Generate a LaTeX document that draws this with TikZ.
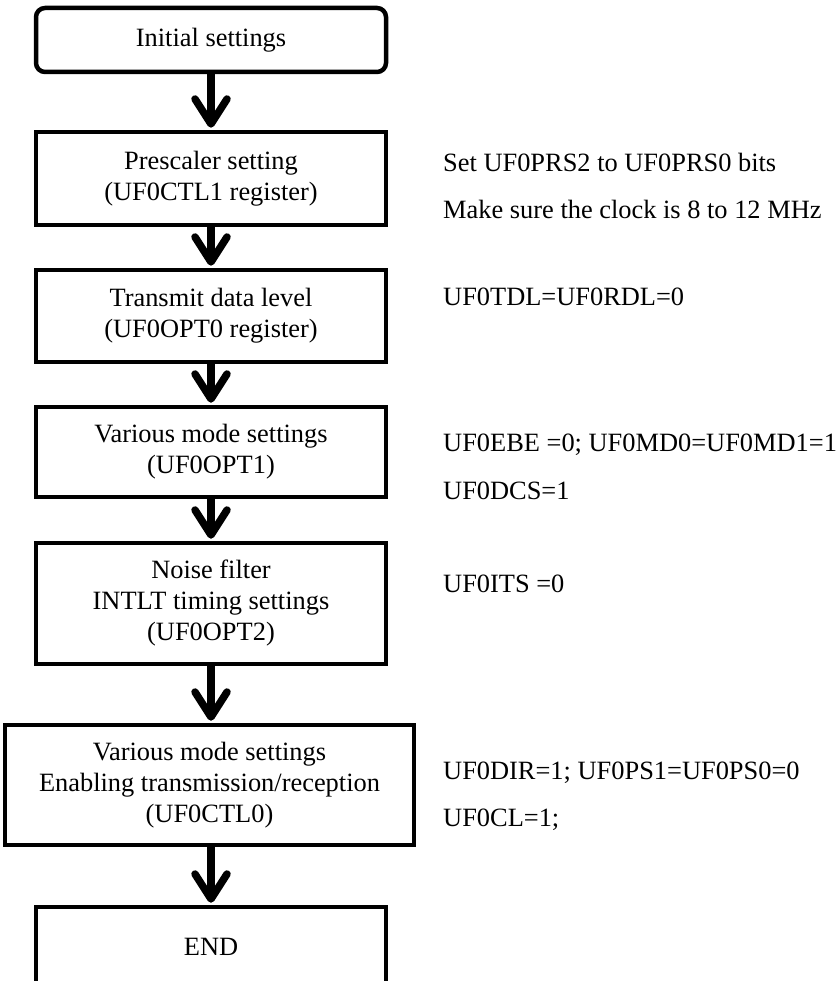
\documentclass[tikz,border=0pt]{standalone}
\usepackage{fontspec}
\setmainfont{Liberation Serif}
\usetikzlibrary{arrows.meta}

\begin{document}
\begin{tikzpicture}[x=1pt, y=-1pt,
  font=\fontsize{26.4}{31}\selectfont,
  stepbox/.style={draw, line width=4.5pt, fill=white, align=center,
    inner sep=0pt, minimum width=350pt},
  startbox/.style={stepbox, rounded corners=9pt},
  flow/.style={line width=7.5pt, shorten >=2pt,
    -{Straight Barb[length=25pt, width=32pt, round]}},
  note/.style={anchor=base west, inner sep=0pt}]
\useasboundingbox (0,0) rectangle (839,981);

% process chain
\node[startbox, minimum height=64pt]  (init)  at (211,40)    {Initial settings};
\node[stepbox,  minimum height=93pt]  (pres)  at (211,178.5) {Prescaler setting\\(UF0CTL1 register)};
\node[stepbox,  minimum height=92pt]  (trans) at (211,316)   {Transmit data level\\(UF0OPT0 register)};
\node[stepbox,  minimum height=90pt]  (mode)  at (211,452)   {Various mode settings\\(UF0OPT1)};
\node[stepbox,  minimum height=121pt] (noise) at (211,603.5) {Noise filter\\INTLT timing settings\\(UF0OPT2)};
\node[stepbox,  minimum height=120pt, minimum width=409pt] (ctl) at (209.5,785)
  {Various mode settings\\Enabling transmission/reception\\(UF0CTL0)};
\node[stepbox,  minimum height=80pt]  (fin)   at (211,947)   {END};

\draw[flow] (init.south)  -- (pres.north);
\draw[flow] (pres.south)  -- (trans.north);
\draw[flow] (trans.south) -- (mode.north);
\draw[flow] (mode.south)  -- (noise.north);
\draw[flow] (noise.south) -- (noise.south |- ctl.north);
\draw[flow] (ctl.south -| fin.north) -- (fin.north);

% register settings beside each step
\node[note] (n1a) at (443,172) {Set UF0PRS2 to UF0PRS0 bits};
\node[note] (n1b) at (443,219) {Make sure the clock is 8 to 12 MHz};
\node[note] (n2)  at (443,305) {UF0TDL=UF0RDL=0};
\node[note] (n3a) at (443,451) {UF0EBE =0; UF0MD0=UF0MD1=1};
\node[note] (n3b) at (443,499) {UF0DCS=1};
\node[note] (n4)  at (443,592) {UF0ITS =0};
\node[note] (n5a) at (443,779) {UF0DIR=1; UF0PS1=UF0PS0=0};
\node[note] (n5b) at (443,826) {UF0CL=1;};
\end{tikzpicture}
\end{document}
